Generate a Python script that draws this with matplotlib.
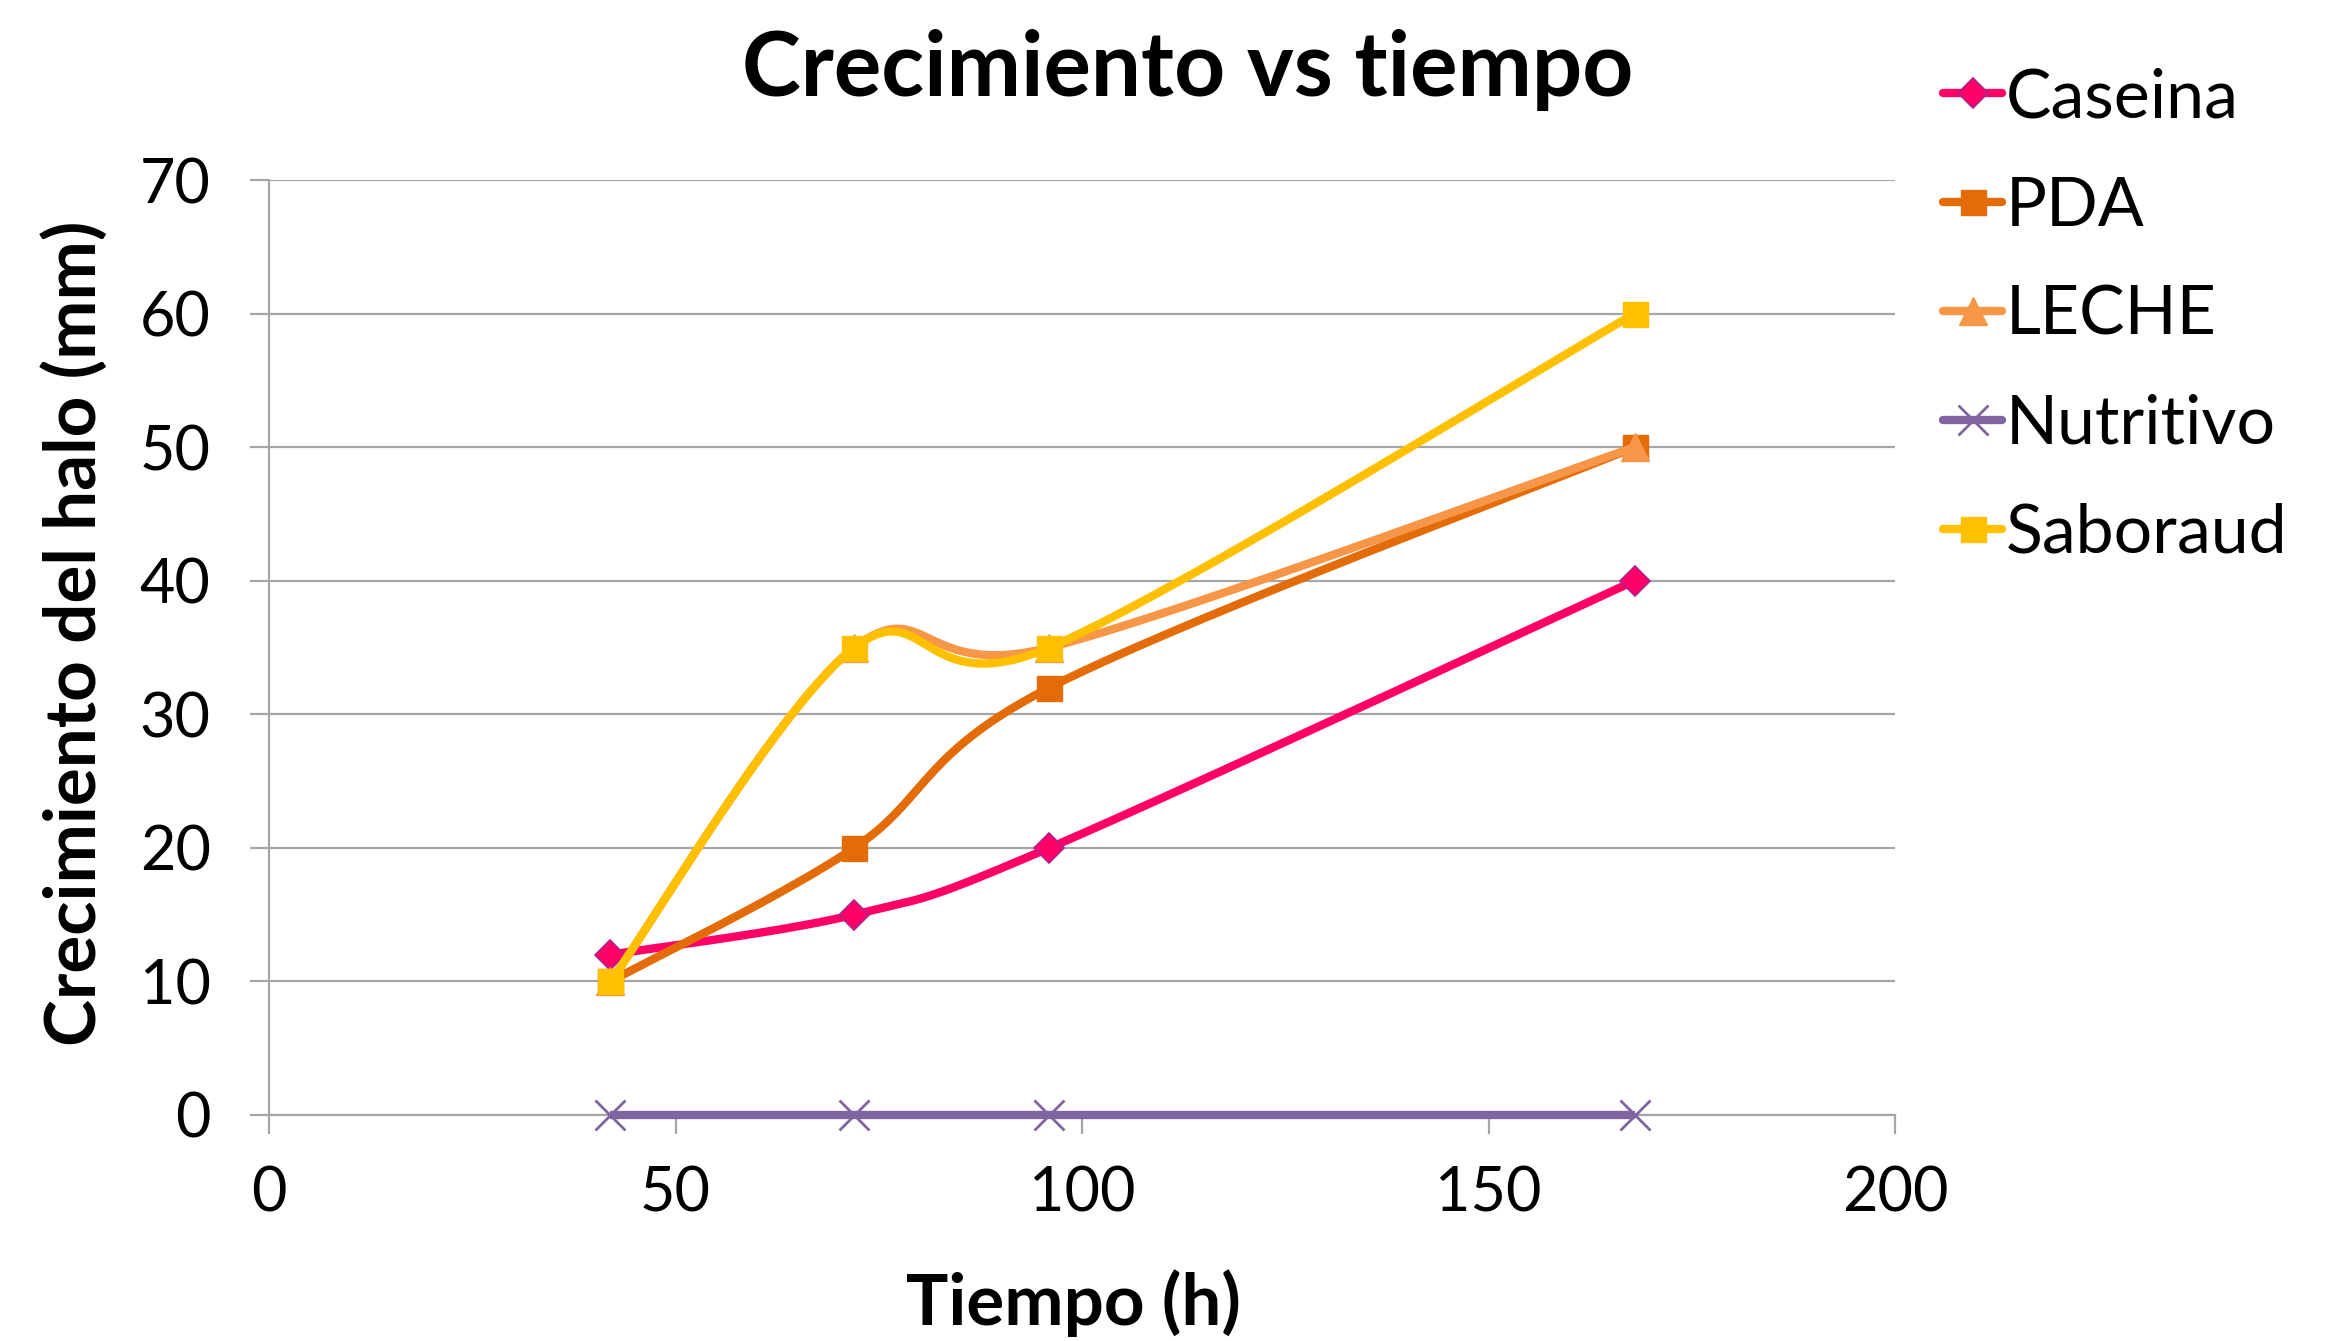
import numpy as np
import matplotlib
matplotlib.use("Agg")
import matplotlib.pyplot as plt

plt.rcParams['font.family'] = ['Lato', 'DejaVu Sans']

# ---- data ----
tiempo = [42, 72, 96, 168]
caseina = [12, 15, 20, 40]
pda = [10, 20, 32, 50]
leche = [10, 35, 35, 50]
nutritivo = [0, 0, 0, 0]
saboraud = [10, 35, 35, 60]
series_names = ["Caseina", "PDA", "LECHE", "Nutritivo", "Saboraud"]
x_ticks = [0, 50, 100, 150, 200]
y_ticks = [0, 10, 20, 30, 40, 50, 60, 70]

W, H = 2329, 1341
fig = plt.figure(figsize=(W / 100, H / 100), dpi=100)
L, R, T, B = 269 / W, 1895 / W, 1 - 180 / H, 1 - 1115 / H
ax = fig.add_axes([L, B, R - L, T - B])
ax.set_xlim(0, 200)
ax.set_ylim(0, 70)

ax_wpx = (R - L) * W
ax_hpx = (T - B) * H


def smooth(xs, ys, n=60):
    # Excel-style smoothing: cubic Bezier with Catmull-Rom control points, in screen space
    sx, sy = ax_wpx / 200.0, ax_hpx / 70.0
    P = np.column_stack([np.asarray(xs, float) * sx, np.asarray(ys, float) * sy])
    out = [P[0]]
    t = np.linspace(0, 1, n)[1:, None]
    for i in range(len(P) - 1):
        p0 = P[i - 1] if i > 0 else P[i]
        p1, p2 = P[i], P[i + 1]
        p3 = P[i + 2] if i + 2 < len(P) else P[i + 1]
        c1 = p1 + (p2 - p0) / 6.0
        c2 = p2 - (p3 - p1) / 6.0
        seg = ((1 - t) ** 3) * p1 + 3 * ((1 - t) ** 2) * t * c1 + 3 * (1 - t) * t ** 2 * c2 + t ** 3 * p2
        out.extend(seg)
    out = np.array(out)
    return out[:, 0] / sx, out[:, 1] / sy


styles = [
    dict(color="#FF0066", marker="D", ms=15, mfc="#FF0066", mec="#B0208F", mew=1.2),
    dict(color="#E36C09", marker="s", ms=18, mfc="#E36C09", mec="#E36C09", mew=1),
    dict(color="#F79646", marker="^", ms=20, mfc="#F79646", mec="#F79646", mew=1),
    dict(color="#8064A2", marker="x", ms=21, mfc="#8064A2", mec="#8064A2", mew=2),
    dict(color="#FFC000", marker="s", ms=18, mfc="#FFC000", mec="#FFC000", mew=1),
]
data = [caseina, pda, leche, nutritivo, saboraud]
lw = 6.0
handles = []
for k, (name, ys, st) in enumerate(zip(series_names, data, styles)):
    sxv, syv = smooth(tiempo, ys)
    ax.plot(sxv, syv, color=st["color"], lw=lw, solid_capstyle="butt", zorder=3 + k, clip_on=False)
    ax.plot(tiempo, ys, ls="none", marker=st["marker"], ms=st["ms"], mfc=st["mfc"],
            mec=st["mec"], mew=st["mew"], zorder=3 + k, clip_on=False)
    h, = ax.plot([], [], color=st["color"], lw=lw, solid_capstyle="round", marker=st["marker"],
                 ms=st["ms"], mfc=st["mfc"], mec=st["mec"], mew=st["mew"], label=name)
    handles.append(h)

grid_c = "#A6A6A6"
ax.set_xticks(x_ticks)
ax.set_yticks(y_ticks)
ax.yaxis.grid(True, color=grid_c, lw=1.6)
ax.set_axisbelow(True)
for s in ["top", "right"]:
    ax.spines[s].set_visible(False)
for s in ["left", "bottom"]:
    ax.spines[s].set_color(grid_c)
    ax.spines[s].set_linewidth(1.6)
ax.tick_params(axis="both", direction="out", length=14, width=1.6, color=grid_c,
               labelsize=44, pad=22)
ax.tick_params(axis="y", pad=28)

ax.set_xlabel("Tiempo (h)", fontsize=51, fontweight="bold")
ax.set_ylabel("Crecimiento del halo (mm)", fontsize=51, fontweight="bold")
ax.xaxis.set_label_coords((1073 / W - L) / (R - L), (1 - 1303 / H - B) / (T - B))
ax.yaxis.set_label_coords((74 / W - L) / (R - L), (1 - 633 / H - B) / (T - B))
ax.xaxis.label.set_va("center")
ax.yaxis.label.set_va("center")
fig.text(1188 / W, 1 - 70 / H, "Crecimiento vs tiempo", fontsize=64, fontweight="bold",
         ha="center", va="center")

fig.legend(handles=handles, loc="upper left", bbox_to_anchor=(1943 / W, 1 - 67 / H),
           frameon=False, fontsize=49, handlelength=0.87, handletextpad=0.05,
           labelspacing=0.69, borderpad=0, borderaxespad=0)

fig.savefig("out.png", dpi=100)
